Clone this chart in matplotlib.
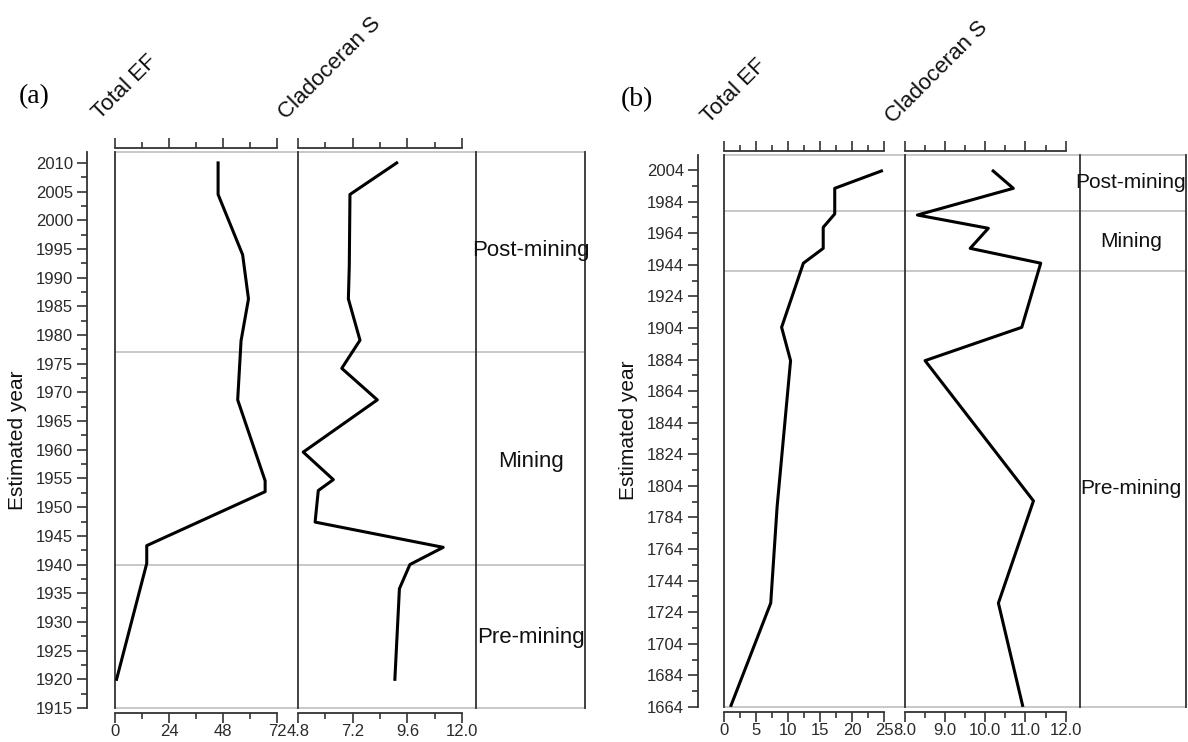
import numpy as np
import matplotlib
matplotlib.use("Agg")
import matplotlib.pyplot as plt
import matplotlib.transforms as mtransforms
from matplotlib.ticker import FixedLocator, FormatStrFormatter

plt.rcParams['font.family'] = ['Liberation Sans', 'DejaVu Sans']

# core (a): total enrichment factor and cladoceran richness vs estimated year
a_ef_year = [2010, 2004.5, 1994, 1986.3, 1979, 1968.7, 1954.6, 1952.7, 1943.3, 1940.2, 1920]
a_ef = [45.8, 45.8, 56.7, 59.3, 56.0, 54.5, 66.7, 66.7, 14.1, 14.1, 0.7]
a_clad_year = [2010, 2004.5, 1992, 1986.3, 1979.1, 1974.2, 1968.7, 1959.6, 1954.8,
               1952.9, 1947.4, 1943, 1940, 1935.8, 1920]
a_clad = [9.13, 7.08, 7.05, 7.01, 7.52, 6.72, 8.28, 5.03, 6.35, 5.69, 5.55, 11.17,
          9.71, 9.25, 9.05]

# core (b)
b_ef_year = [2003.4, 1992.4, 1976.2, 1967.7, 1954.4, 1945, 1904.4, 1883.3, 1790.9, 1729.8, 1665]
b_ef = [24.6, 17.3, 17.3, 15.5, 15.5, 12.4, 9.0, 10.4, 8.3, 7.3, 1.1]
b_clad_year = [2003.4, 1992.4, 1975.5, 1967.1, 1954.4, 1945, 1904.4, 1883.3, 1794.5, 1729.8, 1665]
b_clad = [10.2, 10.7, 8.32, 10.08, 9.63, 11.38, 10.91, 8.51, 11.2, 10.33, 10.93]

# mining period boundaries and zone names
a_bounds = [1977, 1940]
b_bounds = [1978, 1940]
zones = ['Post-mining', 'Mining', 'Pre-mining']
a_zone_year = [1994.8, 1957.9, 1927.2]
b_zone_year = [1995.8, 1959, 1802.6]

W, H = 1188, 742
fig = plt.figure(figsize=(W / 100, H / 100), dpi=100)

DARK = '#333333'
GREY = '#c4c4c4'
PT = 72 / 100  # pixels -> points


def px_axes(x0, x1, y0, y1):
    return fig.add_axes([x0 / W, 1 - y1 / H, (x1 - x0) / W, (y1 - y0) / H])


def frame(ax, ylim, bounds):
    for s in ('top', 'bottom', 'right'):
        ax.spines[s].set_visible(False)
    ax.spines['left'].set_color(DARK)
    ax.spines['left'].set_linewidth(1.3)
    ax.set_ylim(*ylim)
    for y in ylim:
        ax.axhline(y, color=GREY, lw=1.3, clip_on=False, zorder=1)
    for y in bounds:
        ax.axhline(y, color=GREY, lw=1.3, zorder=1)


def data_col(ax, years, vals, lo, hi, right, major, minor, fmt, ylim, bounds):
    frame(ax, ylim, bounds)
    ax.plot(vals, years, color='black', lw=2.2, zorder=3)
    ax.set_xlim(lo, right)
    for s, off in (('top', 4), ('bottom', 5)):
        sp = ax.spines[s]
        sp.set_visible(True)
        sp.set_bounds(lo, hi)
        sp.set_position(('outward', off * PT))
        sp.set_color(DARK)
        sp.set_linewidth(1.3)
    ax.xaxis.set_major_locator(FixedLocator(np.arange(lo, hi + 1e-6, major)))
    ax.xaxis.set_minor_locator(FixedLocator(np.arange(lo, hi + 1e-6, minor)))
    ax.xaxis.set_major_formatter(FormatStrFormatter(fmt))
    ax.tick_params(axis='x', which='both', top=True, bottom=True, labeltop=False,
                   labelbottom=True, direction='out', color=DARK, width=1.2)
    ax.tick_params(axis='x', which='major', length=10 * PT, pad=1,
                   labelsize=12, labelcolor='#2a2a2a')
    ax.tick_params(axis='x', which='minor', length=6 * PT)


def zone_col(ax, ylim, bounds, label_years, size, xc):
    frame(ax, ylim, bounds)
    ax.spines['right'].set_visible(True)
    ax.spines['right'].set_color(DARK)
    ax.spines['right'].set_linewidth(1.3)
    ax.set_xticks([])
    tr = mtransforms.blended_transform_factory(ax.transAxes, ax.transData)
    for name, yr in zip(zones, label_years):
        ax.text(xc, yr, name, transform=tr, ha='center', va='center',
                fontsize=size, color='#111111', clip_on=False)


def panel(tag, tag_xy, cols, top, bottom, ylim, yaxis_px, ymaj, ymin, ylab_xy,
          ef, clad, bounds, label_years, zone_style, heads):
    ax_ef = px_axes(cols[0], cols[1], top, bottom)
    ax_cl = px_axes(cols[1], cols[2], top, bottom)
    ax_z = px_axes(cols[2], cols[3], top, bottom)

    data_col(ax_ef, *ef, ylim=ylim, bounds=bounds)
    data_col(ax_cl, *clad, ylim=ylim, bounds=bounds)
    zone_col(ax_z, ylim, bounds, label_years, *zone_style)

    # year axis sits apart from the frame
    ax_ef.spines['left'].set_position(('outward', (cols[0] - yaxis_px) * PT))
    ax_ef.axvline(ax_ef.get_xlim()[0], color=DARK, lw=1.3, clip_on=False, zorder=2)
    ax_ef.yaxis.set_major_locator(FixedLocator(ymaj))
    ax_ef.yaxis.set_minor_locator(FixedLocator(ymin))
    ax_ef.tick_params(axis='y', which='both', direction='out', color=DARK, width=1.2)
    ax_ef.tick_params(axis='y', which='major', length=10 * PT, pad=3,
                      labelsize=12, labelcolor='#2a2a2a')
    ax_ef.tick_params(axis='y', which='minor', length=6 * PT)
    for ax in (ax_cl, ax_z):
        ax.tick_params(axis='y', which='both', left=False, labelleft=False)

    fig.text(ylab_xy[0] / W, 1 - ylab_xy[1] / H, 'Estimated year', rotation=90,
             ha='center', va='center', fontsize=15, color='#111111')
    fig.text(tag_xy[0] / W, 1 - tag_xy[1] / H, tag, ha='center', va='center',
             fontsize=20, family=['Liberation Serif', 'DejaVu Serif'])
    for (x, y), txt in heads:
        fig.text(x / W, 1 - y / H, txt, rotation=45, rotation_mode='anchor',
                 ha='left', va='bottom', fontsize=16, color='#111111')


panel('(a)', (34, 97), [115, 298, 476, 585], 152, 708, (1915, 2011.9), 87,
      np.arange(1915, 2011, 5), np.arange(1917.5, 2011, 5), (18, 440),
      (a_ef_year, a_ef, 0, 72, 81.3, 24, 12, '%d'),
      (a_clad_year, a_clad, 4.8, 12.0, 12.61, 2.4, 1.2, '%.1f'),
      a_bounds, a_zone_year, (16, 0.5),
      [((104, 124), 'Total EF'), ((290, 124), 'Cladoceran S')])

panel('(b)', (637, 100), [724, 904.5, 1080, 1186], 155, 707, (1664, 2013.5), 698,
      np.arange(1664, 2005, 20), np.arange(1674, 2013, 20), (628, 430),
      (b_ef_year, b_ef, 0, 25, 28.2, 5, 2.5, '%d'),
      (b_clad_year, b_clad, 8.0, 12.0, 12.355, 1.0, 0.5, '%.1f'),
      b_bounds, b_zone_year, (15, 0.48),
      [((713, 128), 'Total EF'), ((897, 128), 'Cladoceran S')])

fig.savefig('out.png', dpi=100)
